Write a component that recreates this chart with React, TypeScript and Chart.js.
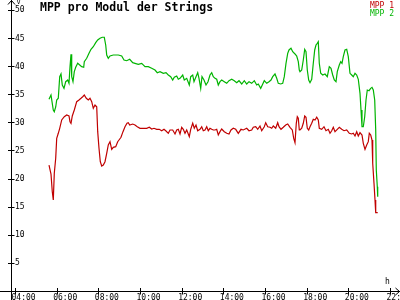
import React, { useEffect, useRef } from "react";
import { Chart, registerables } from "chart.js";

Chart.register(...registerables);

const titleText = "MPP pro Modul der Strings";
const seriesLabels = ["MPP 1", "MPP 2"];
const seriesColors = ["#c00000", "#00b400"];
const yUnit = "V";
const xUnit = "h";
const xTickHours = [4, 6, 8, 10, 12, 14, 16, 18, 20, 22];
const xTickLabels = ["04:00", "06:00", "08:00", "10:00", "12:00", "14:00", "16:00", "18:00", "20:00", "22:00"];
const yTickValues = [5, 10, 15, 20, 25, 30, 35, 40, 45, 50];

// MPP 1 (red): time in hours, voltage
const mpp1Time = [
  5.632, 5.728, 5.79, 5.838, 5.886, 5.954, 6.002, 6.078, 6.146, 6.242, 6.366, 6.482, 6.592, 6.64, 6.688, 6.75,
  6.846, 6.962, 7.072, 7.168, 7.25, 7.326, 7.422, 7.518, 7.6, 7.682, 7.758, 7.84, 7.922, 7.97, 8.032, 8.094,
  8.162, 8.238, 8.32, 8.402, 8.478, 8.56, 8.642, 8.718, 8.834, 8.93, 8.992, 9.088, 9.184, 9.28, 9.376, 9.438,
  9.506, 9.65, 9.76, 9.87, 10.0, 10.158, 10.322, 10.446, 10.562, 10.672, 10.802, 10.926, 11.042, 11.152, 11.248,
  11.358, 11.44, 11.57, 11.68, 11.762, 11.838, 11.92, 12.002, 12.078, 12.16, 12.242, 12.366, 12.434, 12.53,
  12.606, 12.688, 12.77, 12.88, 12.962, 13.038, 13.12, 13.202, 13.278, 13.36, 13.442, 13.518, 13.6, 13.682,
  13.758, 13.84, 13.922, 14.046, 14.162, 14.272, 14.368, 14.478, 14.594, 14.718, 14.848, 14.958, 15.122, 15.232,
  15.362, 15.438, 15.554, 15.65, 15.76, 15.842, 15.966, 16.034, 16.13, 16.24, 16.322, 16.398, 16.514, 16.61,
  16.672, 16.768, 16.878, 16.994, 17.09, 17.2, 17.31, 17.378, 17.44, 17.502, 17.55, 17.598, 17.646, 17.68,
  17.762, 17.838, 17.906, 17.968, 18.03, 18.098, 18.16, 18.242, 18.318, 18.4, 18.482, 18.558, 18.606, 18.722,
  18.832, 18.928, 19.038, 19.12, 19.202, 19.278, 19.36, 19.47, 19.566, 19.682, 19.792, 19.922, 20.046, 20.162,
  20.238, 20.32, 20.402, 20.478, 20.56, 20.656, 20.718, 20.8, 20.882, 20.958, 21.006, 21.074, 21.136, 21.17,
  21.232, 21.28, 21.314, 21.41,
];
const mpp1 = [
  22.41, 20.81, 17.66, 16.19, 20.94, 23.6, 27.16, 28.05, 28.94, 30.42, 31.0, 31.31, 31.13, 30.11, 29.83, 31.13,
  32.19, 33.67, 33.97, 34.28, 34.56, 34.86, 34.28, 33.97, 34.28, 33.67, 32.5, 33.08, 32.78, 28.34, 25.38, 23.0,
  22.23, 22.41, 23.0, 24.49, 25.97, 26.56, 25.2, 25.56, 25.67, 26.56, 26.86, 27.34, 28.34, 29.22, 29.83, 29.94,
  29.53, 29.7, 29.53, 29.22, 28.94, 28.94, 28.94, 29.12, 28.81, 28.94, 28.76, 28.76, 28.51, 28.76, 28.46,
  28.05, 28.64, 28.64, 27.93, 28.64, 28.76, 27.93, 29.12, 28.76, 28.05, 28.64, 27.45, 28.76, 29.83,
  28.94, 29.53, 28.51, 28.76, 29.22, 28.51, 28.64, 29.22, 28.51, 28.94, 28.76, 28.64, 28.64, 28.76,
  27.75, 28.34, 28.81, 28.34, 28.05, 27.93, 28.64, 28.94, 28.76, 28.05, 28.76, 28.64, 28.94, 28.51,
  28.64, 29.12, 29.22, 28.76, 29.35, 28.51, 29.22, 29.94, 29.22, 29.12, 28.94, 29.35, 28.94, 29.94,
  29.22, 28.76, 29.12, 29.53, 29.7, 29.12, 28.64, 27.16, 26.38, 29.83, 31.0, 30.72, 28.64, 28.64,
  28.94, 29.83, 31.13, 30.9, 28.94, 28.64, 29.22, 29.83, 30.54, 30.42, 30.9, 30.42, 28.94, 28.76,
  29.22, 28.51, 28.76, 28.05, 28.51, 29.12, 28.34, 28.76, 29.12, 28.76, 28.51, 28.64, 28.05, 27.93,
  28.05, 27.57, 28.34, 27.57, 28.16, 27.75, 26.27, 25.2, 25.97, 26.56, 28.05, 27.75, 26.86, 22.71,
  19.16, 16.19, 13.93, 13.93,
];

// MPP 2 (green): time in hours, voltage
const mpp2Time = [
  5.632, 5.728, 5.838, 5.886, 5.954, 6.002, 6.078, 6.146, 6.208, 6.27, 6.352, 6.434, 6.53, 6.592, 6.64, 6.688,
  6.722, 6.784, 6.846, 6.914, 7.01, 7.106, 7.202, 7.298, 7.326, 7.442, 7.552, 7.648, 7.758, 7.874, 7.97, 8.08,
  8.19, 8.286, 8.354, 8.402, 8.478, 8.56, 8.718, 8.958, 9.122, 9.232, 9.362, 9.506, 9.65, 9.76, 9.918, 10.082,
  10.24, 10.398, 10.562, 10.72, 10.83, 10.96, 11.118, 11.248, 11.358, 11.474, 11.57, 11.646, 11.762, 11.838,
  11.92, 12.05, 12.126, 12.242, 12.366, 12.434, 12.53, 12.592, 12.688, 12.77, 12.832, 12.914, 12.976, 13.072,
  13.168, 13.264, 13.36, 13.442, 13.518, 13.6, 13.682, 13.758, 13.84, 13.922, 14.046, 14.162, 14.272, 14.402,
  14.526, 14.642, 14.752, 14.882, 15.006, 15.122, 15.232, 15.362, 15.486, 15.602, 15.678, 15.794, 15.87,
  15.966, 16.082, 16.192, 16.288, 16.37, 16.48, 16.562, 16.638, 16.754, 16.85, 16.926, 17.008, 17.09, 17.152,
  17.248, 17.33, 17.44, 17.522, 17.598, 17.646, 17.68, 17.762, 17.838, 17.906, 17.968, 18.03, 18.098, 18.16,
  18.242, 18.318, 18.386, 18.448, 18.51, 18.558, 18.606, 18.674, 18.77, 18.88, 18.99, 19.086, 19.168, 19.25,
  19.326, 19.408, 19.47, 19.566, 19.634, 19.696, 19.758, 19.84, 19.922, 19.998, 20.08, 20.162, 20.238, 20.32,
  20.402, 20.478, 20.56, 20.608, 20.656, 20.718, 20.786, 20.848, 20.91, 20.992, 21.074, 21.136, 21.198, 21.266,
  21.314, 21.342, 21.39, 21.41,
];
const mpp2 = [
  34.1, 34.86, 32.19, 31.89, 32.73, 33.97, 34.28, 38.12, 38.6, 36.64, 36.05, 37.23, 37.53, 36.94, 39.9, 42.1,
  38.12, 37.23, 39.01, 39.79, 40.5, 40.2, 39.9, 39.79, 40.79, 41.39, 42.28, 42.99, 43.45, 44.17, 44.65, 44.95,
  45.13, 45.13, 43.76, 41.98, 41.39, 41.8, 41.98, 41.98, 41.8, 41.09, 40.96, 41.21, 40.61, 40.5, 40.32, 40.5,
  39.9, 39.9, 39.61, 39.31, 38.83, 39.01, 38.72, 38.83, 38.42, 38.12, 37.53, 38.01, 38.24, 37.66,
  37.83, 38.42, 37.53, 37.83, 36.64, 38.12, 38.42, 37.23, 38.12, 38.83, 37.83, 36.05, 38.12, 37.53,
  36.64, 37.23, 38.42, 38.83, 38.12, 37.83, 37.66, 36.64, 37.23, 37.53, 37.23, 36.94, 37.41, 37.66,
  37.41, 37.05, 37.41, 36.82, 37.41, 36.82, 37.23, 36.94, 37.41, 36.64, 36.82, 36.05, 36.64,
  37.41, 36.94, 37.23, 37.53, 38.12, 38.6, 37.83, 36.94, 36.82, 36.94, 38.12, 40.5, 42.28, 42.87,
  43.17, 42.56, 42.16, 41.8, 40.79, 39.31, 39.01, 39.31, 41.09, 42.99, 42.56, 39.31, 37.53, 37.05,
  37.66, 40.5, 42.87, 43.76, 44.06, 44.34, 40.5, 38.72, 38.42, 38.6, 38.12, 39.9, 39.61, 38.42,
  37.53, 37.23, 39.01, 40.2, 40.79, 40.5, 41.68, 42.87, 42.99, 41.68, 38.72, 38.42, 38.12, 38.72,
  38.42, 37.66, 35.16, 32.19, 29.22, 29.22, 31.0, 33.97, 35.75, 35.63, 36.05, 36.23, 35.75, 33.97,
  28.64, 21.52, 18.55, 16.77,
];

const tickFont = "8px 'DejaVu Sans Mono', monospace";

const axesPlugin = {
  id: "customAxes",
  afterDraw(chart: any) {
    const ctx = chart.ctx as CanvasRenderingContext2D;
    const xs = chart.scales.x;
    const ys = chart.scales.y;
    const W = chart.width;
    const H = chart.height;
    const ax = Math.round(xs.left) + 0.5;
    const ay = Math.round(ys.getPixelForValue(0)) + 0.5;
    ctx.save();
    ctx.strokeStyle = "#000";
    ctx.fillStyle = "#000";
    ctx.lineWidth = 1;
    ctx.beginPath();
    ctx.moveTo(ax, 0);
    ctx.lineTo(ax, H);
    ctx.moveTo(0, ay);
    ctx.lineTo(W, ay);
    // arrows
    ctx.moveTo(ax - 3.5, 4.5);
    ctx.lineTo(ax, 0.5);
    ctx.lineTo(ax + 3.5, 4.5);
    ctx.moveTo(W - 4.5, ay - 3.5);
    ctx.lineTo(W - 0.5, ay);
    ctx.lineTo(W - 4.5, ay + 3.5);
    // y ticks
    for (const v of yTickValues) {
      const py = Math.round(ys.getPixelForValue(v)) + 0.5;
      ctx.moveTo(ax - 3.5, py);
      ctx.lineTo(ax + 3, py);
    }
    for (const h of xTickHours) {
      const px = Math.round(xs.getPixelForValue(h)) + 0.5;
      ctx.moveTo(px, ay - 3.5);
      ctx.lineTo(px, ay + 3);
    }
    ctx.stroke();

    ctx.font = tickFont;
    ctx.textAlign = "left";
    ctx.textBaseline = "middle";
    for (const v of yTickValues) {
      const py = ys.getPixelForValue(v);
      ctx.fillText(String(v), ax + 3.5, py + 0.5);
    }
    ctx.textBaseline = "top";
    xTickHours.forEach((h, i) => {
      const px = xs.getPixelForValue(h);
      ctx.fillText(xTickLabels[i], px - 3.5, ay + 2.5);
    });
    ctx.font = "7px 'DejaVu Sans Mono', monospace";
    ctx.fillText(yUnit, ax + 5, -1);
    ctx.font = tickFont;
    ctx.fillText(xUnit, W - 15, ay - 14);

    // title
    ctx.font = "bold 11.5px 'DejaVu Sans Mono', monospace";
    ctx.textBaseline = "middle";
    ctx.fillText(titleText, 40, 8);

    // legend
    ctx.font = tickFont;
    ctx.textAlign = "right";
    chart.data.datasets.forEach((ds: any, i: number) => {
      ctx.fillStyle = ds.borderColor;
      ctx.fillText(ds.label, W - 6, 5.5 + i * 8.5);
    });
    ctx.restore();
  },
};

export default function App() {
  const ref = useRef<HTMLCanvasElement | null>(null);
  useEffect(() => {
    if (!ref.current) return;
    const toPts = (t: number[], v: number[]) => t.map((x, i) => ({ x, y: v[i] }));
    const chart = new Chart(ref.current, {
      type: "line",
      data: {
        datasets: [
          {
            label: seriesLabels[0],
            data: toPts(mpp1Time, mpp1),
            borderColor: seriesColors[0],
            backgroundColor: seriesColors[0],
            borderWidth: 1.2,
            pointRadius: 0,
            tension: 0,
          },
          {
            label: seriesLabels[1],
            data: toPts(mpp2Time, mpp2),
            borderColor: seriesColors[1],
            backgroundColor: seriesColors[1],
            borderWidth: 1.2,
            pointRadius: 0,
            tension: 0,
          },
        ],
      },
      options: {
        animation: false,
        responsive: false,
        maintainAspectRatio: false,
        devicePixelRatio: 1,
        layout: { padding: { left: 11, right: 0, top: 0, bottom: 9 } },
        plugins: { legend: { display: false }, tooltip: { enabled: false }, title: { display: false } },
        scales: {
          x: { type: "linear", min: 3.808, max: 22.48, display: false },
          y: { type: "linear", min: 0, max: 51.76, display: false },
        },
      },
      plugins: [axesPlugin],
    });
    return () => chart.destroy();
  }, []);
  return (
    <div style={{ position: "absolute", left: 0, top: 0, width: 400, height: 300, background: "#fff" }}>
      <canvas ref={ref} width={400} height={300} style={{ display: "block", width: 400, height: 300 }} />
    </div>
  );
}
